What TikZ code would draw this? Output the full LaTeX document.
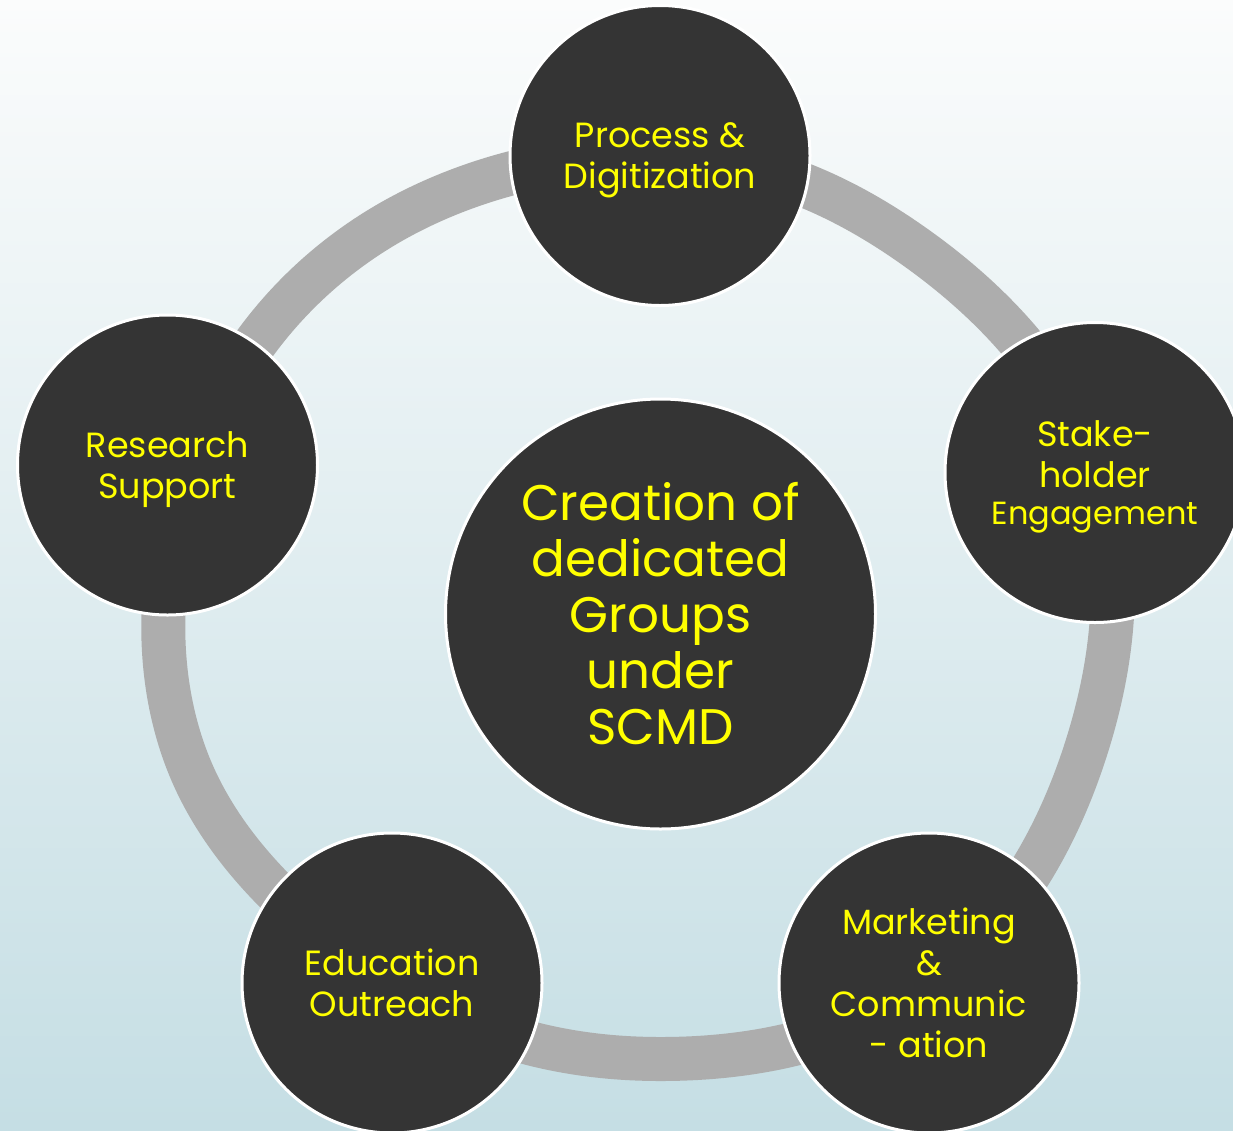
\documentclass[tikz,border=0pt]{standalone}
\usepackage{fontspec}
\setmainfont{Poppins}
\definecolor{bgtop}{HTML}{FBFCFC}
\definecolor{bgbot}{HTML}{C5DEE4}
\definecolor{disc}{HTML}{343434}
\definecolor{ringc}{HTML}{ADADAD}
\definecolor{txt}{HTML}{FFFF00}
\begin{document}
\begin{tikzpicture}[x=1pt,y=-1pt,
  outer/.style={circle, fill=disc, draw=white, line width=3pt, minimum size=300pt,
    inner sep=0pt, text=txt, align=center, font=\fontsize{35}{41}\selectfont},
  hub/.style={outer, minimum size=430pt, font=\fontsize{50}{56}\selectfont},
  ringline/.style={draw=ringc, line width=44pt}]
\useasboundingbox (0,0) rectangle (1233,1130);
\clip (0,0) rectangle (1233,1130);
\shade[top color=bgtop, bottom color=bgbot] (0,0) rectangle (1233,1130);
% centres
\coordinate (cP) at (660,155.5);
\coordinate (cS) at (1095,472.5);
\coordinate (cM) at (929,983);
\coordinate (cE) at (392,983);
\coordinate (cR) at (167.5,465);
\coordinate (cC) at (660.5,614);
% point where the ring runs behind the Research circle
\coordinate (rR) at (190,470);
% ring
\draw[ringline] plot[smooth cycle, tension=0.65] coordinates {(cP) (922,252) (cS)
  (1085,752) (cM) (660.5,1059) (cE) (188,763) (rR) (365,238)};
% nodes
\node[hub] (hub) at (cC) {Creation of\\dedicated\\Groups\\under\\SCMD};
\node[outer] (proc) at (cP) {Process \&\\\smash{Digitization}};
\node[outer] (stake) at (cS) {Stake-\\holder\\[-4pt]{\fontsize{32}{37}\selectfont\smash{Engagement}}};
\node[outer] (mark) at (cM) {Marketing\\\&\\Communic\\- ation};
\node[outer] (edu) at (cE) {Education\\Outreach};
\node[outer] (res) at (cR) {Research\\\smash{Support}};
\end{tikzpicture}
\end{document}
